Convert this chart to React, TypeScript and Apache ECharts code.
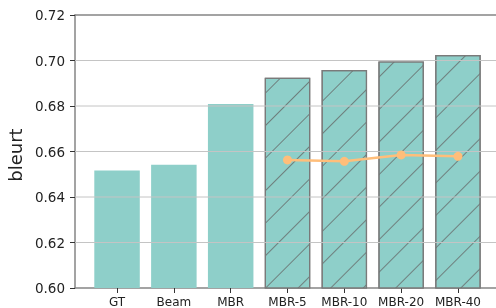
import React, { useEffect, useRef } from "react";
import * as echarts from "echarts";

const categories = ["GT", "Beam", "MBR", "MBR-5", "MBR-10", "MBR-20", "MBR-40"];
const bleurtValues = [0.6516, 0.6542, 0.6809, 0.6924, 0.6958, 0.6996, 0.7024];
const hatchedFlags = [false, false, false, true, true, true, true];
const lineCategories = ["MBR-5", "MBR-10", "MBR-20", "MBR-40"];
const lineValues = [0.6563, 0.6557, 0.6585, 0.6579];
const yGridValues = [0.62, 0.64, 0.66, 0.68, 0.7];

const X_MIN = -0.74;
const X_MAX = 6.74;
const FONT = "DejaVu Sans";
const TEAL = "#8ECFC9";
const ORANGE = "#FFBE7A";
const SPINE = "#858585";
const GRID = "#c4c4c4";

export default function App() {
  const ref = useRef<HTMLDivElement>(null);
  useEffect(() => {
    if (!ref.current) return;
    const chart = echarts.init(ref.current, null, { renderer: "svg" });
    const catIdx = categories.map((_, i) => i);
    const xCommon = {
      type: "value",
      min: X_MIN,
      max: X_MAX,
      splitLine: { show: false },
    };
    const gridSeries = yGridValues.map((y) => ({
      type: "line",
      z: 2,
      silent: true,
      symbol: "none",
      lineStyle: { color: GRID, width: 1 },
      data: [
        [X_MIN, y],
        [X_MAX, y],
      ],
    }));
    chart.setOption({
      animation: false,
      grid: {
        left: 75,
        top: 15,
        width: 425,
        height: 273,
        containLabel: false,
        outerBoundsMode: "none",
      },
      xAxis: [
        {
          ...xCommon,
          position: "bottom",
          axisLine: { show: true, onZero: false, lineStyle: { color: SPINE, width: 1.5 } },
          axisTick: {
            show: true,
            customValues: catIdx,
            length: 5,
            lineStyle: { color: "#333", width: 1 },
          },
          axisLabel: {
            customValues: catIdx,
            formatter: (v: number) => categories[Math.round(v)] ?? "",
            fontFamily: FONT,
            fontSize: 12,
            color: "#222",
            margin: 8,
          },
        },
        {
          ...xCommon,
          position: "top",
          axisLine: { show: true, onZero: false, lineStyle: { color: SPINE, width: 1.5 } },
          axisTick: { show: false },
          axisLabel: { show: false },
        },
      ],
      yAxis: {
        type: "value",
        min: 0.6,
        max: 0.72,
        interval: 0.02,
        position: "left",
        name: "bleurt",
        nameLocation: "middle",
        nameRotate: 90,
        nameGap: 47,
        nameTextStyle: {
          fontFamily: FONT,
          fontSize: 18,
          color: "#222",
          padding: [0, 7, 0, 0],
        },
        axisLine: { show: true, onZero: false, lineStyle: { color: SPINE, width: 1.5 } },
        axisTick: { show: true, length: 5, lineStyle: { color: "#333" } },
        axisLabel: {
          formatter: (v: number) => v.toFixed(2),
          fontFamily: FONT,
          fontSize: 13.5,
          color: "#222",
          margin: 10,
        },
        splitLine: { show: false },
      },
      series: [
        {
          type: "bar",
          z: 1,
          barWidth: 45.5,
          data: bleurtValues.map((v, i) => ({
            value: [i, v],
            itemStyle: hatchedFlags[i]
              ? {
                  color: TEAL,
                  borderColor: "#7a7a7a",
                  borderWidth: 1.2,
                  decal: {
                    symbol: "rect",
                    symbolSize: 1,
                    dashArrayX: [1, 0],
                    dashArrayY: [1, 21.6],
                    rotation: -Math.PI / 4,
                    color: "rgba(100,100,100,0.75)",
                  },
                }
              : { color: TEAL },
          })),
        },
        ...gridSeries,
        {
          type: "line",
          z: 3,
          data: lineValues.map((v, i) => [categories.indexOf(lineCategories[i]), v]),
          lineStyle: { color: ORANGE, width: 2.5 },
          itemStyle: { color: ORANGE },
          symbol: "circle",
          symbolSize: 9,
        },
      ],
    });
    return () => chart.dispose();
  }, []);
  return (
    <div
      ref={ref}
      style={{ position: "fixed", left: 0, top: 0, width: 496, height: 308 }}
    />
  );
}
